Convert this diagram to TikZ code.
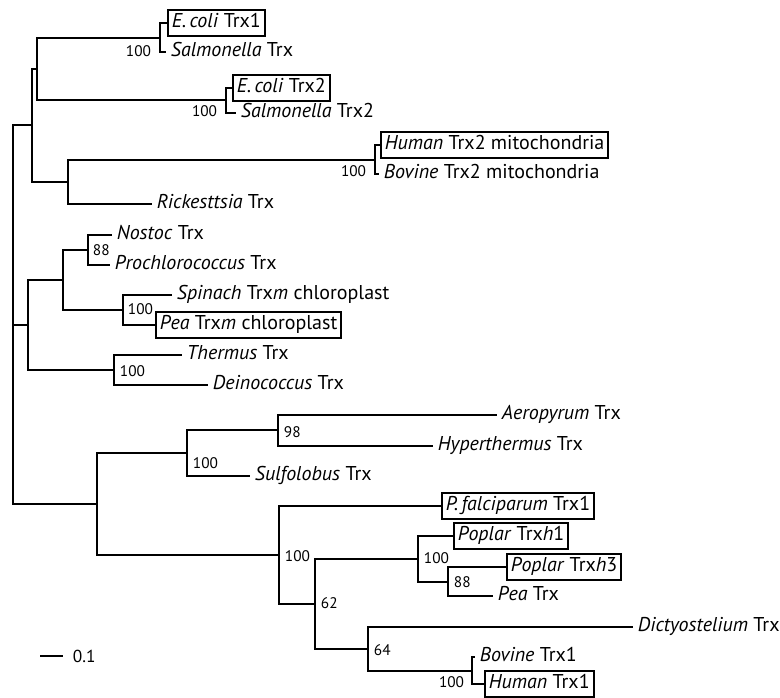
\documentclass[tikz,border=0pt]{standalone}
\usepackage{fontspec}
\setmainfont{PT Sans}
\begin{document}
\begin{tikzpicture}[x=0.75pt, y=-0.75pt, line width=1.4pt,
  leaf/.style={anchor=west, inner xsep=3pt, inner ysep=3pt, text height=10.5pt, text depth=3.5pt, font=\fontsize{15}{18}\selectfont},
  boxed/.style={leaf, draw, line width=1.3pt},
  boot/.style={inner sep=0pt, font=\fontsize{11.5}{13}\selectfont}]
\useasboundingbox (0,0) rectangle (780,698);

% leaves
\node[boxed] (ec1) at (167,23) {\textit{E.\,coli} Trx1};
\node[leaf] (sal1) at (166,52) {\textit{Salmonella} Trx};
\node[boxed] (ec2) at (232,88) {\textit{E.\,coli} Trx2};
\node[leaf] (sal2) at (236,113) {\textit{Salmonella} Trx2};
\node[boxed] (hum2) at (380,145) {\textit{Human} Trx2 mitochondria};
\node[leaf] (bov2) at (379,174) {\textit{Bovine} Trx2 mitochondria};
\node[leaf] (rick) at (152,204) {\textit{Rickesttsia} Trx};
\node[leaf] (nos) at (112,235) {\textit{Nostoc} Trx};
\node[leaf] (pro) at (110,265) {\textit{Prochlorococcus} Trx};
\node[leaf] (spi) at (172,295) {\textit{Spinach} Trx\textit{m} chloroplast};
\node[boxed] (pea) at (155,325) {\textit{Pea} Trx\textit{m} chloroplast};
\node[leaf] (the) at (182,355) {\textit{Thermus} Trx};
\node[leaf] (dei) at (208,385) {\textit{Deinococcus} Trx};
\node[leaf] (aer) at (497,415) {\textit{Aeropyrum} Trx};
\node[leaf] (hyp) at (433,446) {\textit{Hyperthermus} Trx};
\node[leaf] (sul) at (250,476) {\textit{Sulfolobus} Trx};
\node[boxed] (pf) at (441,506) {\textit{P.\,falciparum} Trx1};
\node[boxed] (pop1) at (453,536) {\textit{Poplar} Trx\textit{h}1};
\node[boxed] (pop3) at (506,567) {\textit{Poplar} Trx\textit{h}3};
\node[leaf] (peat) at (493,596) {\textit{Pea} Trx};
\node[leaf] (dic) at (633,627) {\textit{Dictyostelium} Trx};
\node[leaf] (bov1) at (475,657) {\textit{Bovine} Trx1};
\node[boxed] (hum1) at (484,684) {\textit{Human} Trx1};

% inner nodes
\coordinate (root) at (13,325);
\coordinate (c) at (32,125);
\coordinate (a) at (37,69);
\coordinate (ec1n) at (160,38);
\coordinate (ec2n) at (226,100);
\coordinate (b) at (68,182);
\coordinate (hu2n) at (375,160);
\coordinate (e) at (28,325);
\coordinate (d) at (63,280);
\coordinate (non) at (88,250);
\coordinate (spn) at (123,310);
\coordinate (thn) at (114,370);
\coordinate (f) at (97,504);
\coordinate (sun) at (187,453);
\coordinate (aen) at (278,430);
\coordinate (pfn) at (279,555);
\coordinate (g) at (315,604);
\coordinate (phn) at (418,559);
\coordinate (pon) at (448,582);
\coordinate (din) at (368,649);
\coordinate (hu1n) at (472,671);

% bootstrap values
\node[boot, anchor=east] (v1) at (152,51) {100};
\node[boot, anchor=east] (v2) at (218,111) {100};
\node[boot, anchor=east] (v3) at (367,171) {100};
\node[boot, anchor=west] (v4) at (92,250) {88};
\node[boot, anchor=west] (v5) at (127,309) {100};
\node[boot, anchor=west] (v6) at (119,371) {100};
\node[boot, anchor=west] (v7) at (283,432) {98};
\node[boot, anchor=west] (v8) at (192,463) {100};
\node[boot, anchor=west] (v9) at (284,556) {100};
\node[boot, anchor=west] (v10) at (423,558) {100};
\node[boot, anchor=west] (v11) at (453,582) {88};
\node[boot, anchor=west] (v12) at (320,603) {62};
\node[boot, anchor=west] (v13) at (373,650) {64};
\node[boot, anchor=east] (v14) at (465,682) {100};

% branches
\draw (root) |- (c);
\draw (root) -- (e);
\draw (root) |- (f);
\draw (c) |- (a);
\draw (c) |- (b);
\draw (a) |- (ec1n);
\draw (a) |- (ec2n);
\draw (ec1n) |- (ec1.west);
\draw (ec1n) |- (sal1.west);
\draw (ec2n) |- (ec2.west);
\draw (ec2n) |- (sal2.west);
\draw (b) |- (hu2n);
\draw (b) |- (rick.west);
\draw (hu2n) |- (hum2.west);
\draw (hu2n) |- (bov2.west);
\draw (e) |- (d);
\draw (e) |- (thn);
\draw (d) |- (non);
\draw (d) |- (spn);
\draw (non) |- (nos.west);
\draw (non) |- (pro.west);
\draw (spn) |- (spi.west);
\draw (spn) |- (pea.west);
\draw (thn) |- (the.west);
\draw (thn) |- (dei.west);
\draw (f) |- (sun);
\draw (f) |- (pfn);
\draw (sun) |- (aen);
\draw (sun) |- (sul.west);
\draw (aen) |- (aer.west);
\draw (aen) |- (hyp.west);
\draw (pfn) |- (pf.west);
\draw (pfn) |- (g);
\draw (g) |- (phn);
\draw (g) |- (din);
\draw (phn) |- (pop1.west);
\draw (phn) |- (pon);
\draw (pon) |- (pop3.west);
\draw (pon) |- (peat.west);
\draw (din) |- (dic.west);
\draw (din) |- (hu1n);
\draw (hu1n) |- (bov1.west);
\draw (hu1n) |- (hum1.west);

% scale
\coordinate (s0) at (40,656);
\coordinate (s1) at (63,656);
\draw (s0) -- (s1);
\node[anchor=west, inner sep=0pt, font=\fontsize{13}{15}\selectfont] (sc) at (72,656) {0.1};
\end{tikzpicture}
\end{document}
